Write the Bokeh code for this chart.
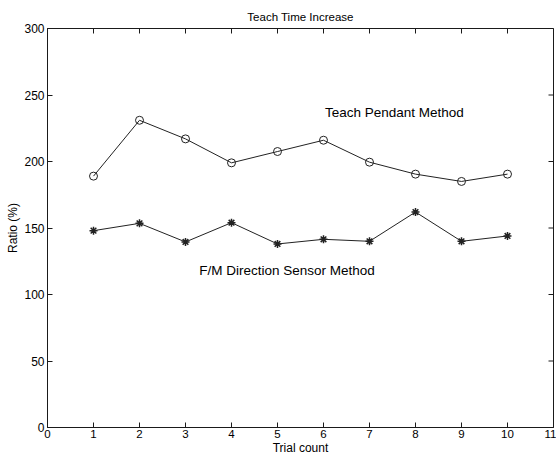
import math
from bokeh.plotting import figure
from bokeh.models import Range1d, FixedTicker, Label
from bokeh.embed import file_html
from bokeh.resources import INLINE

trials = [1, 2, 3, 4, 5, 6, 7, 8, 9, 10]
teach_pendant = [189, 231, 217, 199, 207.5, 216, 199.5, 190.5, 185, 190.5]
fm_sensor = [148, 153.5, 139.5, 154, 138, 141.5, 140, 162, 140, 144]
x_ticks = list(range(0, 12))
y_ticks = [0, 50, 100, 150, 200, 250, 300]
x_min, x_max = 0, 11
y_min, y_max = 0, 300
title_text = "Teach Time Increase"
x_label = "Trial count"
y_label = "Ratio (%)"
label_pendant = "Teach Pendant Method"
label_sensor = "F/M Direction Sensor Method"

FONT = "Liberation Sans"
INK = "#1a1a1a"

p = figure(width=556, height=457, output_backend="svg", toolbar_location=None,
           x_range=Range1d(x_min, x_max), y_range=Range1d(y_min, y_max),
           min_border_left=47, min_border_right=3, min_border_top=28, min_border_bottom=30)
p.title.text = title_text
p.title.align = "center"
p.title.text_font = FONT
p.title.text_font_size = "11.5px"
p.title.text_font_style = "normal"
p.title.text_color = "black"
p.title.offset = 0
p.title.standoff = 12
p.grid.visible = False
p.outline_line_color = INK
p.outline_line_width = 1
p.background_fill_color = "white"
p.border_fill_color = "white"

for ax in [p.xaxis[0], p.yaxis[0]]:
    ax.major_tick_in = 5
    ax.major_tick_out = 0
    ax.minor_tick_in = 0
    ax.minor_tick_out = 0
    ax.axis_line_color = INK
    ax.major_tick_line_color = INK
    ax.major_label_text_font = FONT
    ax.major_label_text_color = "black"
    ax.axis_label_text_font = FONT
    ax.axis_label_text_font_size = "12px"
    ax.axis_label_text_font_style = "normal"
    ax.axis_label_text_color = "black"

p.xaxis[0].ticker = FixedTicker(ticks=x_ticks)
p.yaxis[0].ticker = FixedTicker(ticks=y_ticks)
p.xaxis[0].axis_label = x_label
p.yaxis[0].axis_label = y_label
p.xaxis[0].major_label_text_font_size = "11.5px"
p.yaxis[0].major_label_text_font_size = "12px"
p.xaxis[0].major_label_standoff = 2
p.xaxis[0].axis_label_standoff = 0
p.yaxis[0].major_label_standoff = 3
p.yaxis[0].axis_label_standoff = 1

# inward ticks on the top and right edges of the box (clipped to the frame)
p.scatter([x_max] * len(y_ticks), y_ticks, marker="dash", size=10,
          line_color=INK, line_width=1)
p.scatter(x_ticks, [y_max] * len(x_ticks), marker="dash", size=10, angle=math.pi / 2,
          line_color=INK, line_width=1)

p.line(trials, teach_pendant, line_color="#222222", line_width=1)
p.scatter(trials, teach_pendant, marker="circle", size=8, fill_color=None,
          line_color="#222222", line_width=1)
p.line(trials, fm_sensor, line_color="#222222", line_width=1)
p.scatter(trials, fm_sensor, marker="asterisk", size=8, line_color="#222222", line_width=1.5)

p.add_layout(Label(x=6.03, y=237, text=label_pendant, text_font=FONT, text_font_size="13.5px",
                   text_baseline="middle", text_align="left", text_color="black"))
p.add_layout(Label(x=3.3, y=118, text=label_sensor, text_font=FONT, text_font_size="13.5px",
                   text_baseline="middle", text_align="left", text_color="black"))

open("out.html", "w").write(file_html(p, INLINE))
